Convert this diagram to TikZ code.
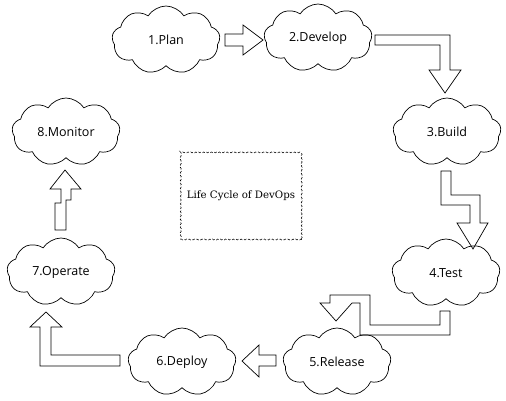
\documentclass[tikz,border=0pt]{standalone}
\usepackage{fontspec}
\usepackage{xcolor}
\usepackage{tikz}
\usetikzlibrary{shapes,arrows,positioning,decorations.pathmorphing}
\newfontfamily\cloudfont{Open Sans}
\newfontfamily\boxfont{DejaVu Serif}

\begin{document}
\begin{tikzpicture}[x=1pt, y=-1pt,
  stage/.style={draw, cloud, cloud puffs=9, cloud puff arc=115, aspect=1.6,
    minimum width=108pt, minimum height=68pt, inner sep=0pt, line width=0.7pt,
    font=\cloudfont\fontsize{12.5}{14}\selectfont},
  blockarrow/.style={draw, line width=0.7pt, line join=miter},
  titlebox/.style={draw, rectangle, minimum width=121pt, minimum height=87pt,
    decorate, decoration={snake, amplitude=0.5pt, segment length=2.6pt},
    densely dashed, line width=0.5pt, font=\boxfont\fontsize{10.2}{12}\selectfont}]
  \useasboundingbox (0,0) rectangle (506,401);

  \node[stage] (plan) at (166,40) {1.Plan};
  \node[stage] (develop) at (318,38) {2.Develop};
  \node[stage] (build) at (447,132) {3.Build};
  \node[stage] (test) at (446,273) {4.Test};
  \node[stage] (release) at (337,362) {5.Release};
  \node[stage] (deploy) at (182,362) {6.Deploy};
  \node[stage] (operate) at (61,272) {7.Operate};
  \node[stage] (monitor) at (66,132) {8.Monitor};
  \node[titlebox] (title) at (241,196) {Life Cycle of DevOps};

  % block arrows between stages
  \draw[blockarrow] (225,34) -- (243,34) -- (243,25) -- (263,40) -- (243,55) -- (243,46) -- (225,46) -- cycle;
  \draw[blockarrow] (375,35) -- (450,35) -- (450,70) -- (461,70) -- (445,93) -- (429,70) -- (440,70) -- (440,45) -- (375,45) -- cycle;
  \draw[blockarrow] (441,171) -- (441,205) -- (470,205) -- (470,223) -- (457,223) -- (473,249) -- (488,223) -- (480,223) -- (480,195) -- (451,195) -- (451,171) -- cycle;
  \draw[blockarrow] (440,311) -- (440,325) -- (370,325) -- (370,295) -- (330,295) -- (330,303) -- (320,303) -- (336,321) -- (352,303) -- (360,303) -- (360,335) -- (450,335) -- (450,311) -- cycle;
  \draw[blockarrow] (276,355) -- (259,355) -- (259,345) -- (242,361) -- (259,377) -- (259,366) -- (276,366) -- cycle;
  \draw[blockarrow] (120,355) -- (51,355) -- (51,327) -- (62,327) -- (46,312) -- (30,327) -- (40,327) -- (40,366) -- (120,366) -- cycle;
  \draw[blockarrow] (55,230) -- (55,203) -- (61,203) -- (61,189) -- (50,189) -- (65,170) -- (81,189) -- (71,189) -- (71,200) -- (66,200) -- (66,230) -- cycle;
\end{tikzpicture}
\end{document}
